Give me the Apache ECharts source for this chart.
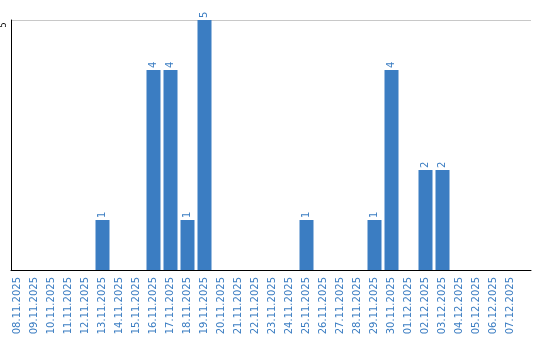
<!DOCTYPE html>
<html><head><meta charset="utf-8">
<script src="https://cdn.jsdelivr.net/npm/echarts@6/dist/echarts.min.js"></script>
<style>html,body{margin:0;padding:0;background:#fff}#c{width:540px;height:340px}</style>
</head><body><div id="c"></div>
<script>
var categories = ["08.11.2025","09.11.2025","10.11.2025","11.11.2025","12.11.2025","13.11.2025","14.11.2025","15.11.2025","16.11.2025","17.11.2025","18.11.2025","19.11.2025","20.11.2025","21.11.2025","22.11.2025","23.11.2025","24.11.2025","25.11.2025","26.11.2025","27.11.2025","28.11.2025","29.11.2025","30.11.2025","01.12.2025","02.12.2025","03.12.2025","04.12.2025","05.12.2025","06.12.2025","07.12.2025"];
var counts = [0,0,0,0,0,1,0,0,4,4,1,5,0,0,0,0,0,1,0,0,0,1,4,0,2,2,0,0,0,0];
var yMax = 5;

var blue = '#3b7dc2';
var chart = echarts.init(document.getElementById('c'), null, {renderer:'canvas'});
chart.setOption({
  animation:false,
  grid:[
    {left:10, right:9, top:20, bottom:70},
    {left:9, width:510, top:20, bottom:70}
  ],
  xAxis:[
    {gridIndex:0, type:'value', min:0, max:1, axisLine:{show:true, onZero:false, lineStyle:{color:'#000', width:1}}, axisTick:{show:false}, axisLabel:{show:false}, splitLine:{show:false}},
    {gridIndex:1, type:'category', data:categories, axisLine:{show:false}, axisTick:{show:false},
     axisLabel:{rotate:90, interval:0, margin:7, color:blue, fontFamily:'DejaVu Sans', fontSize:10}}
  ],
  yAxis:[
    {gridIndex:0, type:'value', min:0, max:yMax, interval:5, axisLine:{show:true, lineStyle:{color:'#000', width:1}}, axisTick:{show:false},
     axisLabel:{rotate:90, margin:3, showMinLabel:false, padding:[0,10,0,0], color:'#000', fontFamily:'DejaVu Sans', fontSize:8},
     splitLine:{show:true, lineStyle:{color:'#c8c8c8', width:1}}},
    {gridIndex:1, type:'value', min:0, max:yMax, show:false}
  ],
  series:[{
    type:'bar', xAxisIndex:1, yAxisIndex:1, data:counts, barWidth:14,
    itemStyle:{color:blue},
    label:{show:true, position:'top', distance:2, rotate:90, align:'left', verticalAlign:'middle',
      color:blue, fontFamily:'DejaVu Sans', fontSize:10,
      formatter:function(p){return p.value ? String(p.value) : '';}}
  }]
});
</script></body></html>
